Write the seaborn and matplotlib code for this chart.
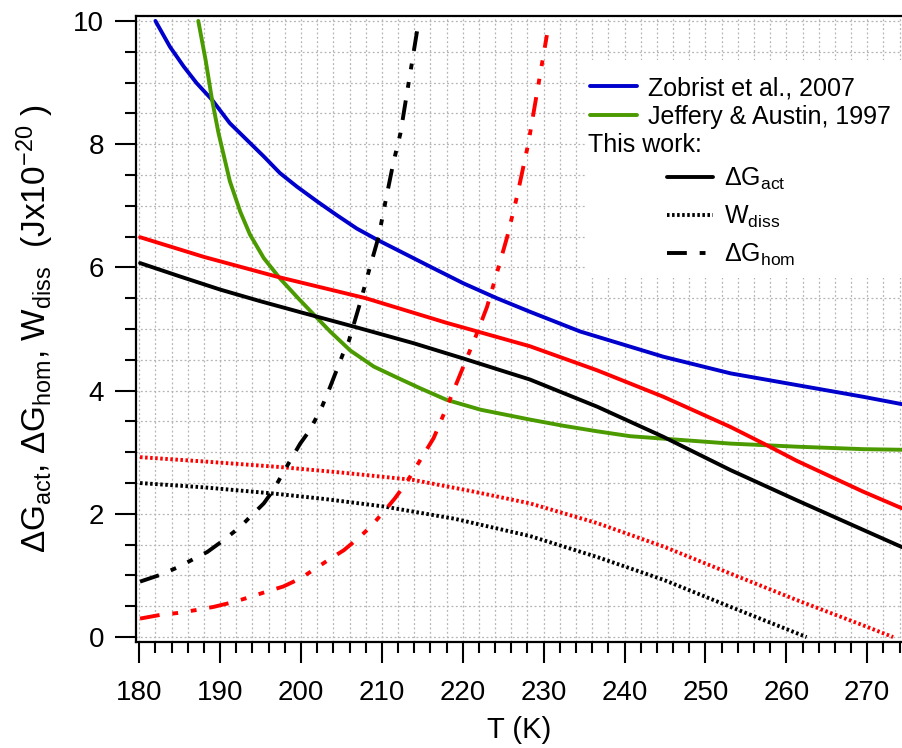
import matplotlib
matplotlib.use('Agg')
import matplotlib.pyplot as plt
from matplotlib.patches import Rectangle
from matplotlib.ticker import MultipleLocator
import pandas as pd
import seaborn as sns

# Zobrist et al., 2007
zob_T = [182.0, 183.8, 185.5, 187.1, 189.0, 191.2, 193.3, 195.4, 197.4, 199.5, 202.0, 204.4, 206.9,
         209.4, 212.7, 216.0, 220.1, 224.2, 228.3, 234.5, 244.8, 253.1, 261.3, 269.5, 274.3]
zob_G = [10.0, 9.58, 9.26, 8.99, 8.72, 8.34, 8.07, 7.80, 7.53, 7.31, 7.07, 6.85, 6.63,
         6.45, 6.23, 6.01, 5.74, 5.50, 5.28, 4.96, 4.55, 4.28, 4.09, 3.90, 3.78]

# Jeffery & Austin, 1997
jef_T = [187.3, 188.2, 189.0, 189.8, 191.2, 192.5, 193.7, 195.4, 197.4, 199.5, 201.1, 203.6, 206.1,
         209.0, 211.9, 214.7, 218.0, 222.2, 228.3, 232.4, 236.6, 240.7, 246.9, 253.1, 261.3, 269.5, 274.3]
jef_G = [10.0, 9.37, 8.72, 8.18, 7.40, 6.90, 6.53, 6.15, 5.82, 5.52, 5.30, 4.96, 4.65,
         4.39, 4.21, 4.04, 3.85, 3.69, 3.53, 3.43, 3.34, 3.26, 3.20, 3.14, 3.09, 3.05, 3.04]

# this work, red set
red_act_T = [180.1, 188.0, 197.0, 208.0, 218.0, 228.3, 236.6, 244.8, 253.1, 257.5, 261.3, 269.5, 274.3]
red_act_G = [6.49, 6.17, 5.85, 5.50, 5.10, 4.72, 4.33, 3.90, 3.41, 3.12, 2.86, 2.36, 2.09]
red_diss_T = [180.1, 188.0, 197.4, 205.0, 213.9, 221.0, 228.3, 236.6, 244.8, 253.1, 261.3, 269.5, 273.2]
red_diss_G = [2.92, 2.85, 2.76, 2.67, 2.55, 2.37, 2.17, 1.85, 1.47, 1.03, 0.60, 0.19, 0.0]
red_hom_T = [180.1, 182.6, 184.7, 187.1, 189.2, 191.7, 193.7, 195.8, 197.8, 199.9, 202.0, 203.6, 205.3,
             207.3, 208.6, 210.2, 211.6, 213.1, 216.4, 218.2, 221.6, 223.0, 224.2, 225.5, 226.7,
             228.1, 229.3, 230.4]
red_hom_G = [0.30, 0.36, 0.39, 0.44, 0.49, 0.57, 0.65, 0.74, 0.82, 0.95, 1.13, 1.27, 1.41,
             1.63, 1.79, 2.03, 2.25, 2.52, 3.23, 3.79, 4.88, 5.36, 5.90, 6.50, 7.15,
             8.01, 8.93, 9.77]

# this work, black set
blk_act_T = [180.1, 185.1, 190.0, 195.0, 200.0, 206.5, 213.9, 220.1, 228.3, 236.6, 244.8, 253.1, 261.3, 269.5, 274.3]
blk_act_G = [6.07, 5.85, 5.64, 5.45, 5.27, 5.04, 4.77, 4.52, 4.18, 3.74, 3.25, 2.71, 2.22, 1.74, 1.46]
blk_diss_T = [180.1, 188.0, 196.6, 203.0, 210.2, 219.0, 228.3, 236.6, 244.8, 253.1, 262.5]
blk_diss_G = [2.50, 2.43, 2.33, 2.24, 2.12, 1.92, 1.64, 1.30, 0.93, 0.49, 0.0]
blk_hom_T = [180.1, 182.6, 184.9, 186.9, 188.4, 190.4, 192.5, 193.7, 195.4, 196.6, 198.2, 199.9, 201.1,
             202.6, 203.6, 205.2, 205.9, 207.3, 208.3, 209.6, 210.4, 211.4, 212.3, 213.1, 213.7, 214.5]
blk_hom_G = [0.90, 1.01, 1.14, 1.28, 1.38, 1.57, 1.79, 1.95, 2.17, 2.39, 2.76, 3.14, 3.36,
             3.74, 4.06, 4.60, 4.80, 5.42, 5.90, 6.50, 7.04, 7.69, 8.18, 8.83, 9.31, 9.96]

legend_refs = ['Zobrist et al., 2007', 'Jeffery & Austin, 1997']
legend_work = [r'ΔG$_{\mathrm{act}}$', r'W$_{\mathrm{diss}}$', r'ΔG$_{\mathrm{hom}}$']

BLUE = '#0000cc'
GREEN = '#4a9a00'
RED = '#ff0000'
LW = 2.8
DOT = (0, (0.65, 0.65))
DASHDOT = (0, (5.1, 3.3, 1.5, 3.3, 1.5, 3.3))

sns.set_style('ticks')
plt.rcParams['font.family'] = ['Liberation Sans', 'DejaVu Sans']
plt.rcParams['mathtext.fontset'] = 'custom'
plt.rcParams['mathtext.rm'] = 'Liberation Sans'
plt.rcParams['mathtext.it'] = 'Liberation Sans:italic'
for k in ['text.color', 'axes.labelcolor', 'xtick.color', 'ytick.color', 'axes.edgecolor']:
    plt.rcParams[k] = 'black'

fig = plt.figure(figsize=(9.02, 7.48), dpi=100)
ax = fig.add_axes([136/902, 1 - 642/748, 766/902, 626/748])

series = [
    (zob_T, zob_G, BLUE, '-'),
    (jef_T, jef_G, GREEN, '-'),
    (red_act_T, red_act_G, RED, '-'),
    (blk_act_T, blk_act_G, 'black', '-'),
    (red_diss_T, red_diss_G, RED, DOT),
    (blk_diss_T, blk_diss_G, 'black', DOT),
    (red_hom_T, red_hom_G, RED, DASHDOT),
    (blk_hom_T, blk_hom_G, 'black', DASHDOT),
]
for T, G, col, ls in series:
    df = pd.DataFrame({'T': T, 'G': G})
    sns.lineplot(data=df, x='T', y='G', ax=ax, color=col, sort=False, estimator=None)
    line = ax.lines[-1]
    line.set_linewidth(LW)
    line.set_linestyle(ls)

ax.set_xlim(179.6, 274.3)
ax.set_ylim(-0.08, 10.08)
ax.xaxis.set_major_locator(MultipleLocator(10))
ax.xaxis.set_minor_locator(MultipleLocator(2))
ax.yaxis.set_major_locator(MultipleLocator(2))
ax.yaxis.set_minor_locator(MultipleLocator(0.5))
ax.tick_params(which='major', direction='out', length=15, width=1.5, labelsize=20)
ax.tick_params(which='minor', direction='out', length=8, width=1.5)
ax.tick_params(axis='x', which='major', pad=12)
ax.tick_params(axis='y', which='major', pad=8)
ax.grid(which='both', linestyle=(0, (1.5, 2)), color='#b4b4b4', linewidth=0.9)
ax.set_axisbelow(True)
for s in ['left', 'bottom', 'top']:
    ax.spines[s].set_linewidth(1.6)
ax.spines['right'].set_visible(False)

ax.set_xlabel('T (K)', fontsize=21)
ax.set_ylabel(r'ΔG$_{\mathrm{act}}$, ΔG$_{\mathrm{hom}}$, W$_{\mathrm{diss}}$  (Jx10$^{-20}$ )', fontsize=24)
ax.xaxis.set_label_coords(0.5, -0.118)
ax.yaxis.set_label_coords(-0.104, 0.5)

# legend drawn by hand (Igor style)
ax.add_patch(Rectangle((0.586, 0.581), 0.414, 0.349, transform=ax.transAxes,
                       facecolor='white', edgecolor='none', zorder=5))
fs = 18
half_cap = 0.0143
for y, col, lab in zip([0.888, 0.842], [BLUE, GREEN], legend_refs):
    ax.plot([0.593, 0.654], [y, y], transform=ax.transAxes, color=col, lw=LW, zorder=6)
    ax.text(0.668, y - half_cap, lab, transform=ax.transAxes, fontsize=fs,
            va='baseline', ha='left', zorder=6)
ax.text(0.590, 0.797 - half_cap, 'This work:', transform=ax.transAxes, fontsize=fs,
        va='baseline', ha='left', zorder=6)
for y, ls, lab in zip([0.743, 0.682, 0.621], ['-', DOT, DASHDOT], legend_work):
    ax.plot([0.693, 0.753], [y, y], transform=ax.transAxes, color='black', lw=LW,
            linestyle=ls, zorder=6)
    ax.text(0.768, y - half_cap, lab, transform=ax.transAxes, fontsize=fs,
            va='baseline', ha='left', zorder=6)

fig.savefig('out.png', dpi=100)
